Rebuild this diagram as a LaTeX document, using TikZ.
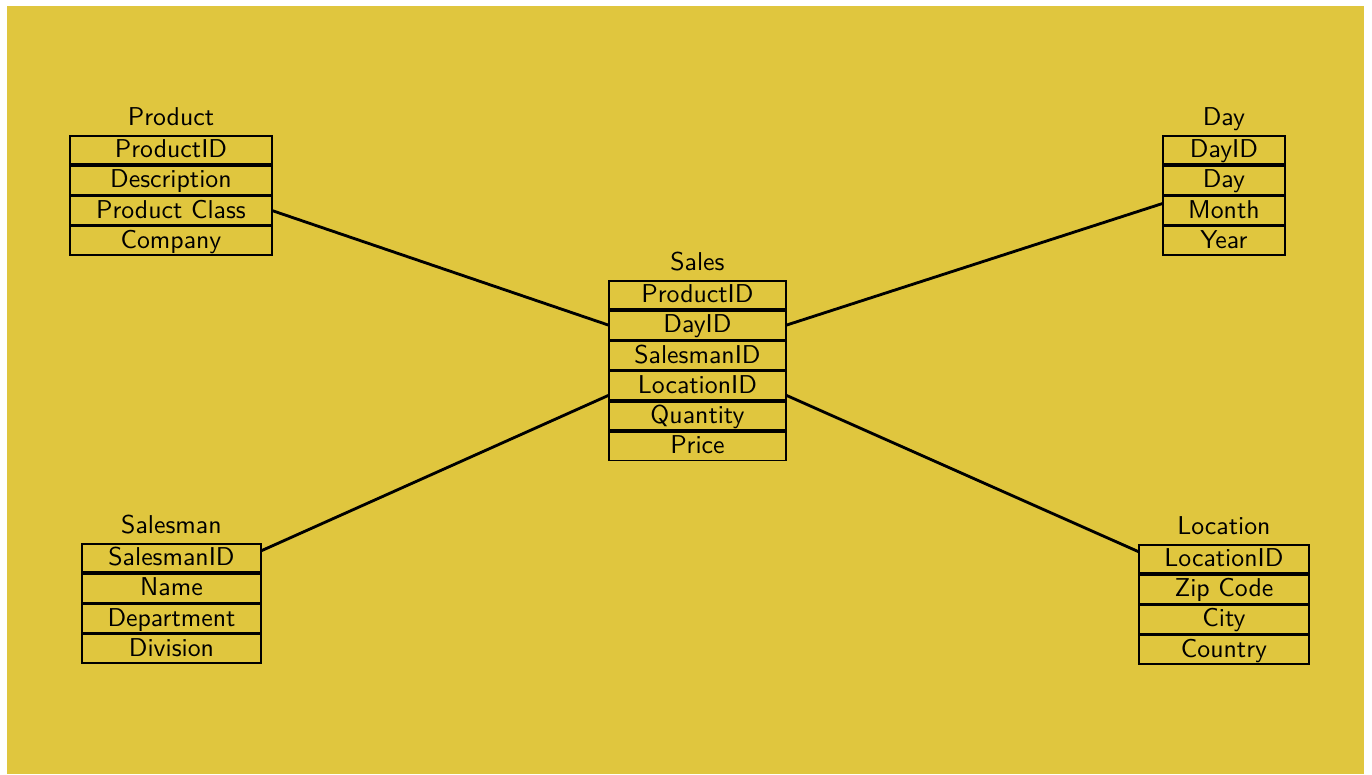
\documentclass[tikz,border=0pt]{standalone}
\usetikzlibrary{positioning,calc}
\definecolor{schemabg}{RGB}{224,198,62}

\begin{document}
\begin{tikzpicture}[font=\sffamily,
  field/.style={draw,line width=0.65pt,text height=8.44pt,text depth=2.63pt,inner sep=0pt,outer sep=0pt},
  tabletitle/.style={inner sep=0pt,text depth=0pt},
  link/.style={line width=1.1pt}]
% Background
\useasboundingbox (0,0) rectangle (18.69,10.544);
\fill[schemabg] (0.095,0) rectangle (18.58,10.463);
% Product table
\begin{scope}[field/.append style={minimum width=78.3pt}]
\node[field] (p1) at (2.329,8.5) {ProductID};
\node[field,below=0.65pt of p1] (p2) {Description};
\node[field,below=0.65pt of p2] (p3) {Product Class};
\node[field,below=0.65pt of p3] (p4) {Company};
\node[tabletitle,above=3.6pt of p1] (ptitle) {Product};
\end{scope}
% Sales table
\begin{scope}[field/.append style={minimum width=68.6pt}]
\node[field] (s1) at (9.501,6.525) {ProductID};
\node[field,below=0.65pt of s1] (s2) {DayID};
\node[field,below=0.65pt of s2] (s3) {SalesmanID};
\node[field,below=0.65pt of s3] (s4) {LocationID};
\node[field,below=0.65pt of s4] (s5) {Quantity};
\node[field,below=0.65pt of s5] (s6) {Price};
\node[tabletitle,above=3.6pt of s1] (stitle) {Sales};
\end{scope}
% Day table
\begin{scope}[field/.append style={minimum width=47.3pt}]
\node[field] (d1) at (16.673,8.5) {DayID};
\node[field,below=0.65pt of d1] (d2) {Day};
\node[field,below=0.65pt of d2] (d3) {Month};
\node[field,below=0.65pt of d3] (d4) {Year};
\node[tabletitle,above=3.6pt of d1] (dtitle) {Day};
\end{scope}
% Salesman table
\begin{scope}[field/.append style={minimum width=69.4pt}]
\node[field] (m1) at (2.336,2.942) {SalesmanID};
\node[field,below=0.65pt of m1] (m2) {Name};
\node[field,below=0.65pt of m2] (m3) {Department};
\node[field,below=0.65pt of m3] (m4) {Division};
\node[tabletitle,above=3.6pt of m1] (mtitle) {Salesman};
\end{scope}
% Location table
\begin{scope}[field/.append style={minimum width=65.9pt}]
\node[field] (l1) at (16.673,2.929) {LocationID};
\node[field,below=0.65pt of l1] (l2) {Zip Code};
\node[field,below=0.65pt of l2] (l3) {City};
\node[field,below=0.65pt of l3] (l4) {Country};
\node[tabletitle,above=3.6pt of l1] (ltitle) {Location};
\end{scope}
% Links
\draw[link] (p3.east) -- (s2.west);
\draw[link] (s2.east) -- ($(d3.west)!0.5!(d3.north west)$);
\draw[link] ($(m1.east)!0.5!(m1.north east)$) -- ($(s4.west)!0.66!(s4.south west)$);
\draw[link] ($(s4.east)!0.66!(s4.south east)$) -- ($(l1.west)!0.5!(l1.north west)$);
\end{tikzpicture}
\end{document}
